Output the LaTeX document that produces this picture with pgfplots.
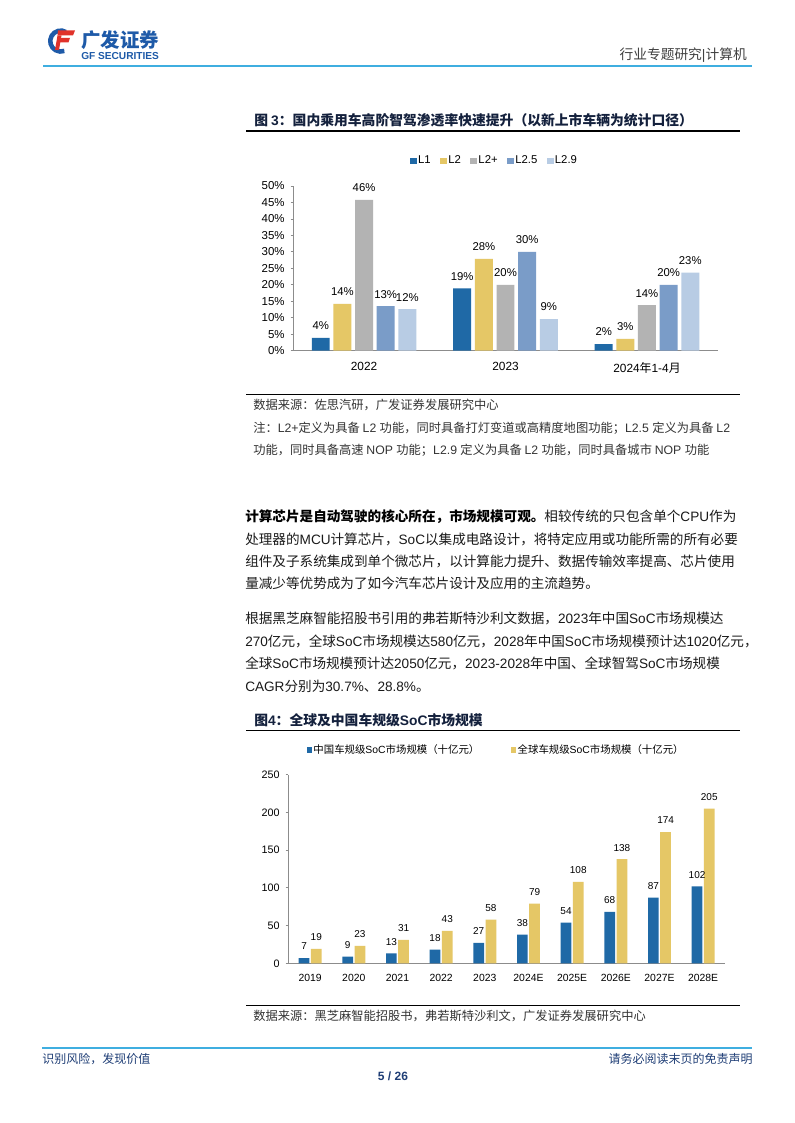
\documentclass[border=0pt]{standalone}
\usepackage{fontspec}
\setmainfont{Liberation Sans}
\newfontfamily\cjk{Noto Sans CJK SC}
\usepackage{pgfplots}
\usepackage{pgfplotstable}
\pgfplotsset{compat=1.18}
\definecolor{cA}{HTML}{1F69A6}
\definecolor{cB}{HTML}{E5C766}
\definecolor{cC}{HTML}{B3B3B3}
\definecolor{cD}{HTML}{7A9CC8}
\definecolor{cE}{HTML}{B8CCE4}
\definecolor{headblue}{HTML}{3FAEE0}
\definecolor{navy}{HTML}{1F3E76}
\definecolor{logoblue}{HTML}{1E5AA8}
\definecolor{logored}{HTML}{E0322A}
\definecolor{axisgray}{HTML}{8C8C8C}
\definecolor{titlec}{HTML}{14213D}
\definecolor{bodyc}{HTML}{1A1A1A}
\definecolor{srcc}{HTML}{333333}
\newcommand\fs[1]{\fontsize{#1}{#1}\selectfont}
% automatic font switching between Latin and CJK
\newXeTeXintercharclass\cjkclass
\makeatletter
\count@="2E80
\loop\ifnum\count@<"A000 \XeTeXcharclass\count@=\cjkclass \advance\count@ by 1 \repeat
\count@="FF00
\loop\ifnum\count@<"FFF0 \XeTeXcharclass\count@=\cjkclass \advance\count@ by 1 \repeat
\makeatother
\XeTeXinterchartoks 0 \cjkclass = {\cjk}
\XeTeXinterchartoks 4095 \cjkclass = {\cjk}
\XeTeXinterchartoks \cjkclass 0 = {\rmfamily}
\XeTeXinterchartoks 4095 0 = {\rmfamily}
\pgfplotsset{/pgf/number format/assume math mode=true}

\pgfplotstableread{
x y lab
0 3.9 4
1 18.9 19
2 2.0 2
}\tA
\pgfplotstableread{
x y lab
0 14.2 14
1 27.9 28
2 3.6 3
}\tB
\pgfplotstableread{
x y lab
0 45.8 46
1 20.0 20
2 13.8 14
}\tC
\pgfplotstableread{
x y lab
0 13.5 13
1 30.0 30
2 20.0 20
}\tD
\pgfplotstableread{
x y lab
0 12.6 12
1 9.6 9
2 23.7 23
}\tE
\pgfplotstableread{
x y lab
0 7 7
1 9 9
2 13 13
3 18 18
4 27 27
5 38 38
6 54 54
7 68 68
8 87 87
9 102 102
}\tCN
\pgfplotstableread{
x y lab
0 19 19
1 23 23
2 31 31
3 43 43
4 58 58
5 79 79
6 108 108
7 138 138
8 174 174
9 205 205
}\tGL

\begin{document}
\XeTeXinterchartokenstate=1
\begin{tikzpicture}[x=0.75pt,y=0.75pt]
\fill[white] (0,0) rectangle (794,1123);
\path[use as bounding box] (0,0) rectangle (794,1123);

% ---------- Chart 1 ----------
\begin{axis}[
  at={(219.98pt,579.23pt)}, anchor=south west,
  scale only axis, width=318.3pt, height=123.5pt,
  xmin=-0.5, xmax=2.5, ymin=0, ymax=50,
  axis x line*=bottom, axis y line*=left,
  axis line style={draw=axisgray, line width=0.6pt, -},
  xtick={0,1,2}, xticklabels={2022,2023,2024年1-4月},
  xtick style={draw=none},
  ytick={0,5,...,50},
  yticklabels={0\%,5\%,10\%,15\%,20\%,25\%,30\%,35\%,40\%,45\%,50\%},
  tick align=outside, major tick length=2pt,
  ytick style={draw=axisgray, line width=0.6pt},
  yticklabel style={font=\fs{8.6}, text=black, xshift=-1pt},
  xticklabel style={font=\fs{8.9}, text=black, yshift=-3pt},
  ybar, bar width=0.127,
  point meta=explicit symbolic,
  nodes near coords={\pgfplotspointmeta\%},
  every node near coord/.append style={font=\fs{8.5}, text=black, yshift=2.5pt},
  legend style={at={(0.473,1.152)}, anchor=center, draw=none, fill=none,
    font=\fs{8.5}, legend columns=-1, inner sep=0pt,
    nodes={inner sep=1pt},
    /tikz/every even column/.append style={column sep=6pt}},
  legend image code/.code={\fill[#1] (0pt,-2.6pt) rectangle (5.2pt,2.6pt);},
  clip=false,
]
\addplot[fill=cA, draw=none, bar shift=-0.306] table[x=x,y=y,meta=lab]{\tA};
\addplot[fill=cB, draw=none, bar shift=-0.153] table[x=x,y=y,meta=lab]{\tB};
\addplot[fill=cC, draw=none, bar shift=0] table[x=x,y=y,meta=lab]{\tC};
\addplot[fill=cD, draw=none, bar shift=0.153] table[x=x,y=y,meta=lab]{\tD};
\addplot[fill=cE, draw=none, bar shift=0.306] table[x=x,y=y,meta=lab]{\tE};
\legend{L1,L2,L2+,L2.5,L2.9}
\end{axis}

% ---------- Chart 2 ----------
\begin{axis}[
  at={(216.23pt,119.78pt)}, anchor=south west,
  scale only axis, width=327.5pt, height=141.45pt,
  xmin=-0.5, xmax=9.5, ymin=0, ymax=250,
  axis x line*=bottom, axis y line*=left,
  axis line style={draw=axisgray, line width=0.6pt, -},
  xtick={0,...,9},
  xticklabels={2019,2020,2021,2022,2023,2024E,2025E,2026E,2027E,2028E},
  xtick style={draw=none},
  ytick={0,50,...,250},
  tick align=outside, major tick length=2pt,
  ytick style={draw=axisgray, line width=0.6pt},
  yticklabel style={font=\fs{8.1}, text=black, xshift=-1pt},
  xticklabel style={font=\fs{7.8}, text=black, yshift=-2.5pt},
  ybar, bar width=0.245,
  point meta=explicit symbolic,
  nodes near coords={\pgfplotspointmeta},
  every node near coord/.append style={font=\fs{7.5}, text=black, yshift=2.5pt},
  legend style={at={(0.4756,1.131)}, anchor=center, draw=none, fill=none,
    font=\fs{7.8}, legend columns=-1, inner sep=0pt,
    nodes={inner sep=1pt},
    /tikz/every even column/.append style={column sep=23pt}},
  legend image code/.code={\fill[#1] (0pt,-1.9pt) rectangle (3.8pt,1.9pt);},
  clip=false,
]
\addplot[fill=cA, draw=none, bar shift=-0.14] table[x=x,y=y,meta=lab]{\tCN};
\addplot[fill=cB, draw=none, bar shift=0.14] table[x=x,y=y,meta=lab]{\tGL};
\legend{中国车规级SoC市场规模（十亿元）,全球车规级SoC市场规模（十亿元）}
\end{axis}

% ---------- Header ----------
\draw[logoblue, line width=3.4pt] (66,1091) arc[start angle=60, end angle=290, radius=10.5];
\fill[logored] (58,1092.5) -- (75,1092.5) -- (73,1087.5) -- (57.5,1087.5) -- cycle;
\fill[logored] (58,1085) -- (70,1085) -- (68.5,1080.5) -- (58,1080.5) -- cycle;
\fill[logored] (57.5,1087.5) -- (61.5,1087.5) -- (59,1073) -- (55,1073) -- cycle;
\node[anchor=west, inner sep=0, font=\fs{14.6}\bfseries, text=logoblue] at (81,1083) {广发证券};
\node[anchor=west, inner sep=0, font=\fs{7.6}\bfseries, text=logoblue] at (81,1066.5) {GF SECURITIES};
\node[anchor=east, inner sep=0, font=\fs{10.3}, text=black!75] at (747,1068) {行业专题研究|计算机};
\draw[headblue, line width=1.5pt] (43,1057.3) -- (752,1057.3);

% ---------- Figure 3 title and notes ----------
\node[anchor=west, inner sep=0, font=\fs{10.35}\bfseries, text=titlec] at (254,1002.3) {图 3：国内乘用车高阶智驾渗透率快速提升（以新上市车辆为统计口径）};
\draw[black, line width=0.9pt] (246,992) -- (740,992);
\draw[black, line width=0.9pt] (246,728.7) -- (740,728.7);
\node[anchor=west, inner sep=0, font=\fs{9.2}, text=srcc] at (253,718) {数据来源：佐思汽研，广发证券发展研究中心};
\node[anchor=west, inner sep=0, font=\fs{9.2}, text=srcc] at (253,694.7) {注：L2+定义为具备 L2 功能，同时具备打灯变道或高精度地图功能；L2.5 定义为具备 L2};
\node[anchor=west, inner sep=0, font=\fs{9.2}, text=srcc] at (253,673) {功能，同时具备高速 NOP 功能；L2.9 定义为具备 L2 功能，同时具备城市 NOP 功能};

% ---------- Body text ----------
\begin{scope}[every node/.style={anchor=west, inner sep=0, font=\fs{10.2}, text=bodyc}]
\node at (245,606.3) {\textbf{\textcolor{black}{计算芯片是自动驾驶的核心所在，市场规模可观。}}相较传统的只包含单个CPU作为};
\node at (245,584) {处理器的MCU计算芯片，SoC以集成电路设计，将特定应用或功能所需的所有必要};
\node at (245,561.7) {组件及子系统集成到单个微芯片，以计算能力提升、数据传输效率提高、芯片使用};
\node at (245,539.4) {量减少等优势成为了如今汽车芯片设计及应用的主流趋势。};
\node at (245,504.5) {根据黑芝麻智能招股书引用的弗若斯特沙利文数据，2023年中国SoC市场规模达};
\node at (245,482) {270亿元，全球SoC市场规模达580亿元，2028年中国SoC市场规模预计达1020亿元，};
\node at (245,459.5) {全球SoC市场规模预计达2050亿元，2023-2028年中国、全球智驾SoC市场规模};
\node at (245,437) {CAGR分别为30.7\%、28.8\%。};
\end{scope}

% ---------- Figure 4 title and source ----------
\node[anchor=west, inner sep=0, font=\fs{10.35}\bfseries, text=titlec] at (254,402.3) {图4：全球及中国车规级SoC市场规模};
\draw[black, line width=0.9pt] (246,392.3) -- (740,392.3);
\draw[black, line width=0.9pt] (246,117.7) -- (740,117.7);
\node[anchor=west, inner sep=0, font=\fs{9.2}, text=srcc] at (253,107) {数据来源：黑芝麻智能招股书，弗若斯特沙利文，广发证券发展研究中心};

% ---------- Footer ----------
\draw[headblue, line width=1.5pt] (42,74.7) -- (752,74.7);
\node[anchor=west, inner sep=0, font=\fs{9}, text=navy] at (42,64) {识别风险，发现价值};
\node[anchor=east, inner sep=0, font=\fs{9}, text=navy] at (753,64) {请务必阅读末页的免责声明};
\node[inner sep=0, font=\fs{9}\bfseries, text=navy] at (393,46.3) {5 / 26};
\end{tikzpicture}
\end{document}
